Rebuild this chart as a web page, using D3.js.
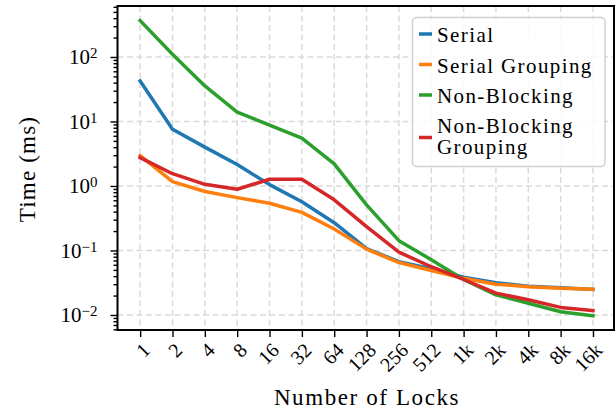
<!DOCTYPE html>
<html>
<head>
<meta charset="utf-8">
<script src="https://cdn.jsdelivr.net/npm/d3@7"></script>
<style>
   body { margin: 0; background: #fff; }
   svg text { font-family: "Liberation Serif", "DejaVu Serif", serif !important; fill: #000; }
</style>
</head>
<body>
<div id="chart"></div>
<script>
// Data
const categories = ["1", "2", "4", "8", "16", "32", "64", "128", "256", "512", "1k", "2k", "4k", "8k", "16k"]
const serial = [42.5, 7.6, 4.0, 2.15, 1.05, 0.57, 0.27, 0.107, 0.067, 0.052, 0.0385, 0.0315, 0.028, 0.0265, 0.025]
const serialGrouping = [2.95, 1.17, 0.82, 0.66, 0.54, 0.39, 0.215, 0.105, 0.065, 0.049, 0.037, 0.030, 0.0275, 0.026, 0.0252]
const nonBlocking = [366, 110, 35.6, 14.0, 8.8, 5.5, 2.2, 0.51, 0.142, 0.072, 0.0355, 0.0205, 0.0152, 0.0112, 0.0097]
const nonBlockingGrouping = [2.75, 1.55, 1.06, 0.89, 1.27, 1.27, 0.61, 0.234, 0.094, 0.056, 0.0355, 0.0218, 0.0172, 0.0131, 0.0117]
const yTicks = [1e-2, 1e-1, 1e0, 1e1, 1e2]
const yTickExponents = ["\u22122", "\u22121", "0", "1", "2"]

const series = [
   { name: "Serial", values: serial, color: "#1f77b4" },
   { name: "Serial Grouping", values: serialGrouping, color: "#ff7f0e" },
   { name: "Non-Blocking", values: nonBlocking, color: "#2ca02c" },
   { name: "Non-Blocking\nGrouping", values: nonBlockingGrouping, color: "#d62728" }
]

const width = 616, height = 412
const plot = { left: 117.5, right: 614, top: 6, bottom: 330 }

const svg = d3.select("#chart").append("svg")
   .attr("width", width)
   .attr("height", height)

// Scales
let x = d3.scaleLinear()
   .domain([-0.7, 14.65])
   .range([plot.left, plot.right])

let y = d3.scaleLog()
   .domain([0.00585, 617])
   .range([plot.bottom, plot.top])

// Grid
let grid = svg.append("g")
   .attr("stroke", "#dadada")
   .attr("stroke-width", 1.5)
   .attr("stroke-dasharray", "6,3.5")

grid.selectAll("line.v").data(categories)
   .join("line")
   .attr("class", "v")
   .attr("x1", (d, i) => x(i)).attr("x2", (d, i) => x(i))
   .attr("y1", plot.top).attr("y2", plot.bottom)

grid.selectAll("line.h").data(yTicks)
   .join("line")
   .attr("class", "h")
   .attr("x1", plot.left).attr("x2", plot.right)
   .attr("y1", d => y(d)).attr("y2", d => y(d))

// Lines
svg.append("clipPath").attr("id", "clip")
   .append("rect")
   .attr("x", plot.left).attr("y", plot.top)
   .attr("width", plot.right - plot.left).attr("height", plot.bottom - plot.top)

let line = d3.line()
   .x((d, i) => x(i))
   .y(d => y(d))

svg.append("g").attr("clip-path", "url(#clip)")
   .selectAll("path").data(series)
   .join("path")
   .attr("d", d => line(d.values))
   .attr("fill", "none")
   .attr("stroke", d => d.color)
   .attr("stroke-width", 3.5)
   .attr("stroke-linejoin", "round")
   .attr("stroke-linecap", "square")

// Y axis ticks (major + minor)
let minorTicks = []
for (let e = -3; e <= 2; e++) {
   for (let m = 2; m <= 9; m++) {
      let v = m * Math.pow(10, e)
      if (v >= y.domain()[0] && v <= y.domain()[1]) minorTicks.push(v)
   }
}

let yMajor = svg.append("g")
   .attr("transform", "translate(" + plot.left + ",0)")
   .call(d3.axisLeft(y).tickValues(yTicks).tickSize(7).tickFormat(""))
let yMinor = svg.append("g")
   .attr("transform", "translate(" + plot.left + ",0)")
   .call(d3.axisLeft(y).tickValues(minorTicks).tickSize(4).tickFormat(""))

;[yMajor, yMinor].forEach(ax => {
   ax.select(".domain").remove()
   ax.selectAll("line").attr("stroke", "#000").attr("stroke-width", 1.4)
})

// Y tick labels as 10^n
svg.append("g").selectAll("text").data(yTicks)
   .join("text")
   .attr("x", 97.5)
   .attr("y", d => y(d) + 7.5)
   .attr("text-anchor", "end")
   .style("font-size", "21px")
   .each(function (d, i) {
      let t = d3.select(this)
      t.append("tspan").text("10")
      t.append("tspan").attr("dy", -6).style("font-size", "15px").text(yTickExponents[i])
   })

// X axis
let xAxis = svg.append("g")
   .attr("transform", "translate(0," + plot.bottom + ")")
   .call(d3.axisBottom(x).tickValues(d3.range(categories.length)).tickSize(7)
      .tickFormat(i => categories[i]))

xAxis.attr("font-family", null)
xAxis.select(".domain").remove()
xAxis.selectAll("line").attr("stroke", "#000").attr("stroke-width", 1.4)

// rotated labels, longer ones sit a bit left of their tick like in the reference
xAxis.selectAll("g.tick text").each(function () {
   let t = d3.select(this)
      .attr("fill", "#000")
      .style("font-size", "20px")
      .attr("text-anchor", "middle")
      .attr("dominant-baseline", "central")
      .attr("dy", null)
   let w = this.getComputedTextLength()
   let h = 13
   let cy = 7 + 5 + 0.707 * (w + h) / 2
   let dx = 6 - 0.38 * w
   t.attr("y", 0).attr("x", 0)
      .attr("transform", "translate(" + dx + "," + cy + ") rotate(-45)")
})

// Frame
svg.append("rect")
   .attr("x", plot.left).attr("y", plot.top)
   .attr("width", plot.right - plot.left).attr("height", plot.bottom - plot.top)
   .attr("fill", "none")
   .attr("stroke", "#000")
   .attr("stroke-width", 2)

// Axis titles
svg.append("text")
   .attr("x", 367).attr("y", 405)
   .attr("text-anchor", "middle")
   .style("font-size", "23px")
   .style("letter-spacing", "1.6px")
   .text("Number of Locks")

svg.append("text")
   .attr("transform", "translate(35,169) rotate(-90)")
   .attr("text-anchor", "middle")
   .style("font-size", "23px")
   .style("letter-spacing", "1.2px")
   .text("Time (ms)")

// Legend
let legend = svg.append("g")
legend.append("rect")
   .attr("x", 412.5).attr("y", 17.5)
   .attr("width", 192.5).attr("height", 149)
   .attr("rx", 4)
   .attr("fill", "#fff").attr("fill-opacity", 0.85)
   .attr("stroke", "#d0d0d0").attr("stroke-width", 1.5)

const legendRows = [34, 64.5, 95, 137.5]
series.forEach((s, i) => {
   let cy = legendRows[i]
   legend.append("line")
      .attr("x1", 419).attr("x2", 432)
      .attr("y1", cy).attr("y2", cy)
      .attr("stroke", s.color).attr("stroke-width", 3.5)
   let lines = s.name.split("\n")
   lines.forEach((l, j) => {
      legend.append("text")
         .attr("x", 437)
         .attr("y", (lines.length === 1 ? cy + 8 : cy - 4.5) + j * 20.6)
         .style("font-size", "21px")
         .style("letter-spacing", "1.4px")
         .text(l)
   })
})
</script>
</body>
</html>
